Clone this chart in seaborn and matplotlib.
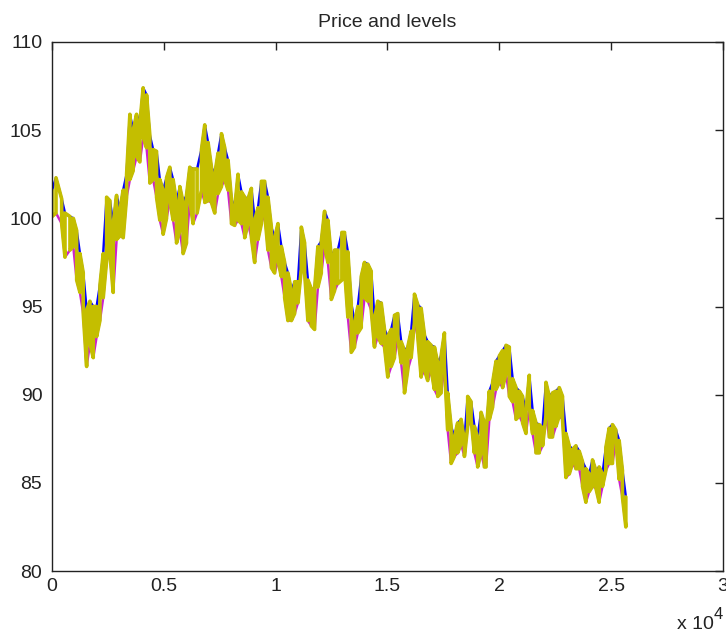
import numpy as np
import pandas as pd
import matplotlib
matplotlib.use("Agg")
import matplotlib.pyplot as plt
import seaborn as sns

# sample positions (time index)
t = [0, 179, 433, 580, 804, 951, 1103, 1250, 1397, 1549, 1696, 1844, 1996, 2143, 2290, 2442,
     2589, 2737, 2888, 3036, 3183, 3335, 3482, 3629, 3781, 3929, 4076, 4228, 4375, 4522, 4674,
     4821, 4969, 5121, 5268, 5415, 5567, 5714, 5862, 6013, 6161, 6308, 6487, 6683, 6830, 6978,
     7129, 7277, 7424, 7576, 7723, 7871, 8022, 8170, 8317, 8469, 8616, 8763, 8915, 9062, 9210,
     9362, 9509, 9656, 9808, 9955, 10103, 10254, 10402, 10549, 10701, 10848, 10996, 11147, 11295,
     11442, 11594, 11741, 11888, 12040, 12188, 12335, 12487, 12634, 12781, 12960, 13080, 13228,
     13379, 13527, 13674, 13826, 13973, 14121, 14272, 14420, 14567, 14719, 14866, 15013, 15165,
     15312, 15460, 15612, 15759, 15906, 16058, 16205, 16353, 16504, 16652, 16799, 16951, 17098,
     17246, 17397, 17545, 17692, 17844, 17991, 18138, 18290, 18438, 18585, 18737, 18884, 19031,
     19183, 19330, 19406, 19554, 19701, 19853, 20000, 20147, 20299, 20446, 20594, 20746, 20893,
     21040, 21192, 21339, 21487, 21638, 21786, 21933, 22085, 22232, 22379, 22531, 22679, 22826,
     22978, 23125, 23272, 23424, 23571, 23719, 23871, 24018, 24165, 24317, 24464, 24612, 24763,
     24911, 25058, 25210, 25357, 25504, 25656]

# upper level (blue)
upper = [101.6, 102.3, 101.1, 100.3, 100.1, 100.0, 99.3, 98.0, 96.9, 94.8, 95.3, 95.0, 95.0,
         96.2, 98.0, 101.2, 101.0, 99.7, 101.3, 100.5, 101.6, 102.5, 105.9, 105.0, 105.9, 105.4,
         107.4, 107.0, 104.7, 103.9, 103.8, 102.2, 101.6, 102.3, 102.9, 102.2, 100.9, 101.8,
         100.9, 101.3, 102.9, 102.8, 102.8, 103.9, 105.3, 104.3, 102.9, 102.5, 103.7, 104.8,
         104.0, 103.3, 101.1, 100.6, 102.5, 101.5, 101.2, 101.1, 101.7, 99.9, 100.6, 102.1,
         102.1, 101.2, 99.5, 98.9, 99.7, 98.4, 97.5, 96.9, 95.9, 96.4, 96.4, 99.5, 98.6, 96.5,
         96.0, 96.0, 98.4, 98.7, 100.4, 99.9, 97.8, 98.2, 98.2, 99.2, 99.2, 98.1, 95.2, 94.1,
         95.0, 96.7, 97.5, 97.4, 97.0, 94.3, 95.3, 95.2, 93.7, 93.3, 93.7, 94.5, 94.6, 93.0,
         92.5, 92.7, 93.6, 95.7, 95.1, 94.9, 93.4, 93.0, 92.8, 92.7, 91.8, 92.2, 93.5, 90.1,
         88.2, 87.6, 88.4, 88.6, 87.4, 89.9, 89.6, 88.2, 87.6, 89.0, 88.4, 87.8, 90.2, 90.7,
         91.9, 92.2, 92.5, 92.8, 92.7, 90.9, 90.4, 90.2, 89.9, 89.1, 91.1, 89.1, 88.4, 88.3,
         88.1, 90.7, 89.9, 90.1, 90.2, 90.4, 89.9, 87.8, 87.1, 86.9, 87.1, 86.8, 86.2, 85.8,
         85.5, 86.3, 85.7, 85.9, 85.5, 87.0, 88.1, 88.3, 88.0, 87.4, 85.7, 84.2]

# lower level (magenta)
lower = [100.1, 100.3, 99.7, 97.8, 98.2, 98.4, 96.5, 95.8, 94.6, 91.6, 92.9, 92.1, 93.3, 94.2,
         95.5, 97.6, 98.0, 95.8, 98.8, 99.0, 98.9, 101.2, 102.2, 102.7, 103.5, 103.2, 104.6,
         104.0, 102.0, 102.2, 101.2, 99.9, 99.1, 100.0, 101.0, 99.9, 98.6, 99.3, 98.0, 98.6,
         101.0, 99.7, 100.3, 101.6, 100.9, 101.0, 100.9, 100.3, 101.4, 101.8, 102.2, 101.6,
         99.7, 99.6, 99.9, 99.7, 98.9, 99.7, 98.9, 97.5, 98.8, 99.7, 100.3, 98.2, 97.2, 96.9,
         97.6, 96.7, 95.5, 94.2, 94.2, 94.6, 95.2, 97.1, 96.9, 94.2, 93.9, 93.7, 96.1, 96.9,
         98.4, 97.5, 95.4, 95.9, 96.3, 96.5, 97.1, 94.4, 92.4, 92.7, 93.5, 93.8, 95.5, 95.3,
         94.8, 92.7, 93.3, 92.9, 92.7, 91.0, 91.6, 92.1, 93.2, 91.8, 90.1, 91.4, 92.1, 94.1,
         93.3, 91.0, 91.4, 90.8, 91.4, 90.3, 89.9, 90.1, 91.6, 88.0, 86.1, 86.5, 86.7, 87.2,
         86.5, 88.2, 88.6, 86.7, 85.9, 86.7, 85.9, 85.9, 88.6, 89.3, 90.3, 90.7, 90.4, 91.2,
         89.9, 89.6, 88.6, 88.8, 88.4, 87.8, 89.3, 87.8, 86.7, 86.7, 87.1, 88.8, 87.6, 87.6,
         88.2, 88.8, 88.6, 85.3, 85.5, 86.1, 85.8, 85.8, 84.8, 83.9, 84.5, 84.8, 84.7, 83.9,
         84.8, 85.7, 86.1, 86.1, 87.4, 85.2, 84.2, 82.5]

x_ticks = [0, 5000, 10000, 15000, 20000, 25000, 30000]
x_tick_labels = ["0", "0.5", "1", "1.5", "2", "2.5", "3"]
y_ticks = [80, 85, 90, 95, 100, 105, 110]

# price path: zig-zags between the two levels within each sample
pt, pp = [], []
for k, (ti, h, l) in enumerate(zip(t, upper, lower)):
    seq = (h, l) if k % 2 == 0 else (l, h)
    pt += [ti, ti]
    pp += list(seq)
price_df = pd.DataFrame({"t": pt, "price": pp})
levels_df = pd.DataFrame({"t": t, "upper": upper, "lower": lower})

sns.set_style("white")
plt.rcParams["font.family"] = ["Liberation Sans", "DejaVu Sans"]

W, H = 726, 635
fig = plt.figure(figsize=(W / 100, H / 100), dpi=100)
ax = fig.add_axes([52 / W, 64 / H, (723 - 52) / W, (571 - 42) / H])

sns.lineplot(data=levels_df, x="t", y="upper", ax=ax, color="#0000ff", lw=1.8,
             estimator=None, sort=False)
sns.lineplot(data=levels_df, x="t", y="lower", ax=ax, color="#cc22cc", lw=1.8,
             estimator=None, sort=False)
sns.lineplot(data=price_df, x="t", y="price", ax=ax, color="#c4be00", lw=2.6,
             estimator=None, sort=False)

ax.set_xlim(0, 30000)
ax.set_ylim(80, 110)
ax.set_xticks(x_ticks)
ax.set_xticklabels(x_tick_labels)
ax.set_yticks(y_ticks)
ax.set_yticklabels([str(v) for v in y_ticks])
ax.set_xlabel("")
ax.set_ylabel("")
ax.tick_params(direction="in", length=6, width=1, colors="#222222",
               top=True, right=True, labelsize=14)
ax.tick_params(axis="x", pad=5)
ax.tick_params(axis="y", pad=7)
for s in ax.spines.values():
    s.set_visible(True)
    s.set_color("#222222")
    s.set_linewidth(1.0)
ax.set_title("Price and levels", fontsize=14, pad=11)

fig.text(677 / W, 1 - 629 / H, "x 10", fontsize=14, va="baseline", ha="left", color="#222222")
fig.text(714 / W, 1 - 619 / H, "4", fontsize=12, va="baseline", ha="left", color="#222222")

fig.savefig("out.png", dpi=100)
